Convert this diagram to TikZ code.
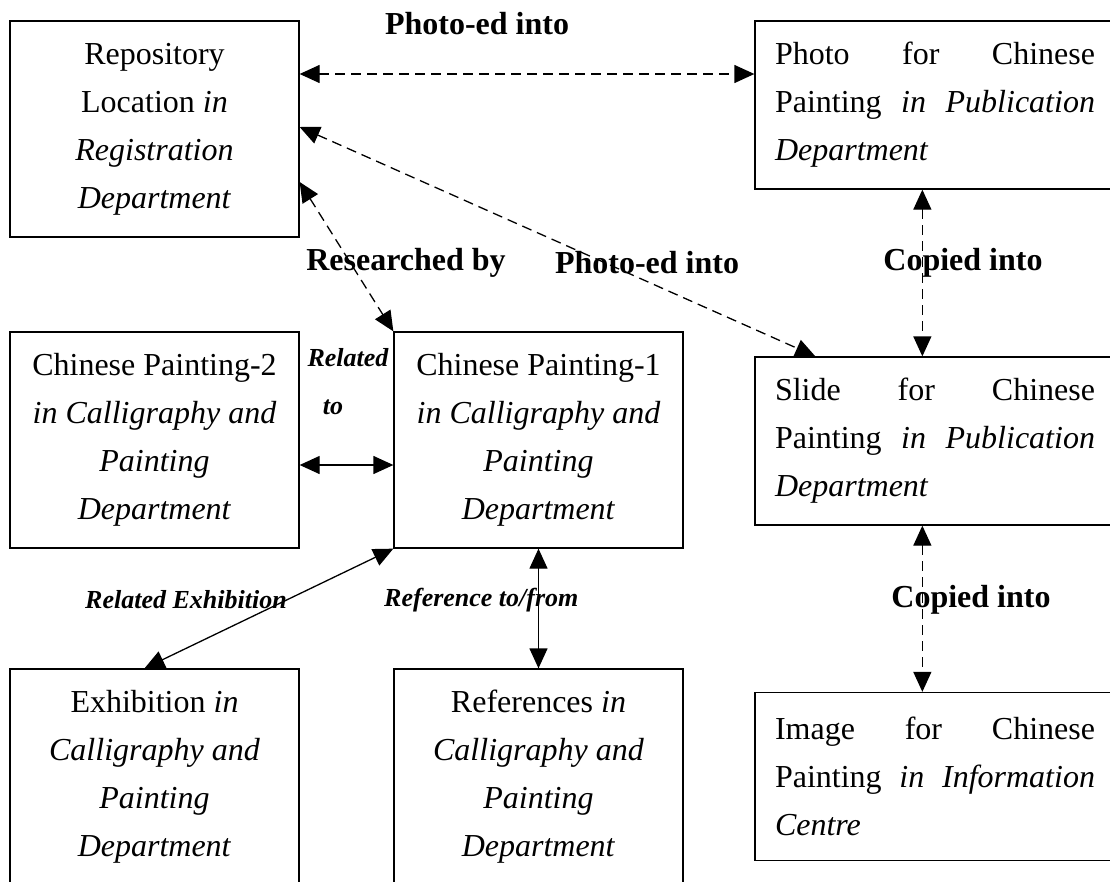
\documentclass[tikz,border=0pt]{standalone}
\usepackage{fontspec}
\setmainfont{Liberation Serif}
\usetikzlibrary{arrows.meta}
\begin{document}
\begin{tikzpicture}[x=1pt,y=-1pt,
  box/.style={draw, line width=1.3pt, inner sep=0pt, font=\fontsize{32}{48}\selectfont},
  cbox/.style={box, minimum width=289pt, minimum height=216pt, align=center},
  rbox/.style={box, minimum width=360pt, minimum height=168pt, text width=320pt, align=left},
  lab/.style={font=\fontsize{32}{40}\selectfont\bfseries, inner sep=0pt},
  ilab/.style={font=\fontsize{26}{30}\selectfont\bfseries\itshape, inner sep=0pt},
  conn/.style={line width=1.3pt, {Triangle[length=20pt,width=18pt]}-{Triangle[length=20pt,width=18pt]}},
  dconn/.style={conn, dash pattern=on 10pt off 6pt}
]
\clip (0,0) rectangle (1110,881);

% boxes
\node[cbox] (rep) at (154.5,129) {Repository\\Location \textit{in}\\\textit{Registration}\\\textit{Department}};
\node[rbox] (photo) at (935,105) {Photo\hfill for\hfill Chinese\\Painting\hfill\textit{in}\hfill\textit{Publication}\\\textit{Department}};
\node[cbox] (cp2) at (154.5,440) {Chinese Painting-2\\\textit{in Calligraphy and}\\\textit{Painting}\\\textit{Department}};
\node[cbox] (cp1) at (538.5,440) {Chinese Painting-1\\\textit{in Calligraphy and}\\\textit{Painting}\\\textit{Department}};
\node[rbox] (slide) at (935,441) {Slide\hfill for\hfill Chinese\\Painting\hfill\textit{in}\hfill\textit{Publication}\\\textit{Department}};
\node[cbox] (exh) at (154.5,777) {Exhibition \textit{in}\\\textit{Calligraphy and}\\\textit{Painting}\\\textit{Department}};
\node[cbox] (ref) at (538.5,777) {References \textit{in}\\\textit{Calligraphy and}\\\textit{Painting}\\\textit{Department}};
\node[rbox] (img) at (935,776.5) {Image\hfill for\hfill Chinese\\Painting\hfill\textit{in}\hfill\textit{Information}\\\textit{Centre}};

% labels
\node[lab] (l1) at (477,24) {Photo-ed into};
\node[lab] (l2) at (406,263) {Researched by};
\node[lab] (l3) at (647,263) {Photo-ed into};
\node[lab] (l4) at (963,263) {Copied into};
\node[ilab] (l5) at (348,358) {Related};
\node[ilab] (l6) at (333,407) {to};
\node[ilab] (l7) at (186,600) {Related Exhibition};
\node[ilab, anchor=west] (l8) at (384,600) {Reference to/from};
\node[lab] (l9) at (971,600) {Copied into};

% connectors
\coordinate (r1) at ([yshift=55pt]rep.east);
\draw[dconn] (r1) -- (r1 -| photo.west);
\coordinate (r2) at ([yshift=2pt]rep.east);
\coordinate (s1) at ([xshift=61pt]slide.north west);
\draw[dconn] (r2) -- (s1);
\coordinate (r3) at ([yshift=-53pt]rep.east);
\draw[dconn] (r3) -- (cp1.north west);
\coordinate (p1) at ([xshift=168pt]photo.south west);
\draw[dconn] (p1) -- (p1 |- slide.north);
\coordinate (s2) at ([xshift=168pt]slide.south west);
\draw[dconn] (s2) -- (s2 |- img.north);
\coordinate (c2) at ([yshift=-25pt]cp2.east);
\draw[conn] (c2) -- (c2 -| cp1.west);
\coordinate (e1) at ([xshift=-10pt]exh.north);
\draw[conn] (cp1.south west) -- (e1);
\draw[conn] (cp1.south) -- (ref.north);
\end{tikzpicture}
\end{document}
